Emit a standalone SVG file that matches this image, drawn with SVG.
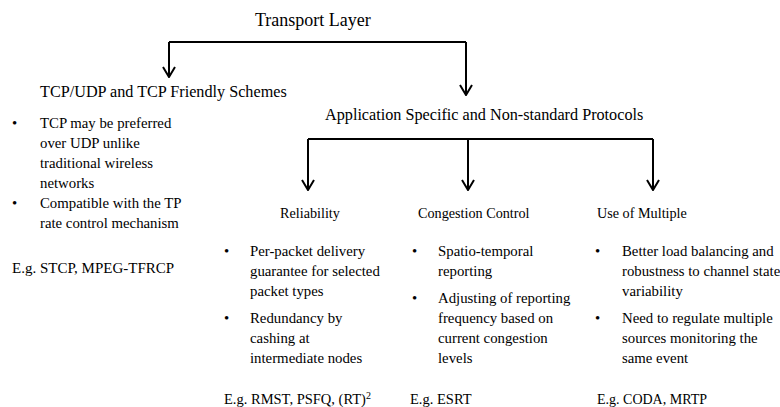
<svg xmlns="http://www.w3.org/2000/svg" width="780" height="407" viewBox="0 0 780 407">
<style>
text{font-family:"Liberation Serif","Times New Roman",serif;fill:#000}
.t{font-size:18px}
.h{font-size:16.2px}
.s{font-size:14.2px}
.b{font-size:14.8px}
.e{font-size:14.5px}
.c{fill:none;stroke:#000;stroke-width:2}
</style>
<defs>
<marker id="a" markerWidth="12" markerHeight="14" refX="11" refY="7" orient="auto" markerUnits="userSpaceOnUse" viewBox="0 0 12 14">
<path d="M1,1 L11,7 L1,13" fill="none" stroke="#000" stroke-width="2"/>
</marker>
</defs>
<rect width="780" height="407" fill="#fff"/>
<g id="connectors">
<path class="c" d="M169,42 H466"/>
<path class="c" d="M169,42 V77" marker-end="url(#a)"/>
<path class="c" d="M466,42 V95" marker-end="url(#a)"/>
<path class="c" d="M308,139 H653"/>
<path class="c" d="M308,139 V190" marker-end="url(#a)"/>
<path class="c" d="M468,139 V190" marker-end="url(#a)"/>
<path class="c" d="M653,139 V190" marker-end="url(#a)"/>
</g>
<g id="transport"><text class="t" x="255" y="26">Transport Layer</text></g>
<g id="tcp">
<text class="h" x="40" y="97">TCP/UDP  and TCP Friendly Schemes</text>
<text class="b" x="12" y="128">•</text>
<text class="b" x="40" y="128">TCP may be preferred</text>
<text class="b" x="40" y="148">over UDP unlike</text>
<text class="b" x="40" y="168">traditional  wireless</text>
<text class="b" x="40" y="188">networks</text>
<text class="b" x="12" y="208">•</text>
<text class="b" x="40" y="208">Compatible with the TP</text>
<text class="b" x="40" y="228">rate control mechanism</text>
<text class="b" x="12" y="273" style="font-size:15px">E.g. STCP, MPEG-TFRCP</text>
</g>
<g id="app"><text class="h" x="325" y="120">Application Specific and Non-standard  Protocols</text></g>
<g id="reliability">
<text class="s" x="280" y="218">Reliability</text>
<text class="b" x="224" y="256">•</text>
<text class="b" x="250" y="256">Per-packet delivery</text>
<text class="b" x="250" y="276">guarantee  for selected</text>
<text class="b" x="250" y="296">packet types</text>
<text class="b" x="224" y="323">•</text>
<text class="b" x="250" y="323">Redundancy by</text>
<text class="b" x="250" y="343">cashing at</text>
<text class="b" x="250" y="363">intermediate  nodes</text>
<text class="e" x="224" y="404">E.g. RMST, PSFQ, (RT)<tspan font-size="10" dy="-5">2</tspan></text>
</g>
<g id="congestion">
<text class="s" x="418" y="218">Congestion  Control</text>
<text class="b" x="412" y="256">•</text>
<text class="b" x="438" y="256">Spatio-temporal</text>
<text class="b" x="438" y="276">reporting</text>
<text class="b" x="412" y="303">•</text>
<text class="b" x="438" y="303">Adjusting  of reporting</text>
<text class="b" x="438" y="323">frequency based on</text>
<text class="b" x="438" y="343">current congestion</text>
<text class="b" x="438" y="363">levels</text>
<text class="e" x="410" y="404">E.g. ESRT</text>
</g>
<g id="multiple">
<text class="s" x="597" y="218">Use of Multiple</text>
<text class="b" x="595" y="256">•</text>
<text class="b" x="622" y="256">Better load balancing  and</text>
<text class="b" x="622" y="276">robustness to channel state</text>
<text class="b" x="622" y="296">variability</text>
<text class="b" x="595" y="323">•</text>
<text class="b" x="622" y="323">Need to regulate multiple</text>
<text class="b" x="622" y="343">sources monitoring  the</text>
<text class="b" x="622" y="363">same event</text>
<text class="e" x="597" y="404" style="font-size:14px">E.g. CODA, MRTP</text>
</g>
</svg>
